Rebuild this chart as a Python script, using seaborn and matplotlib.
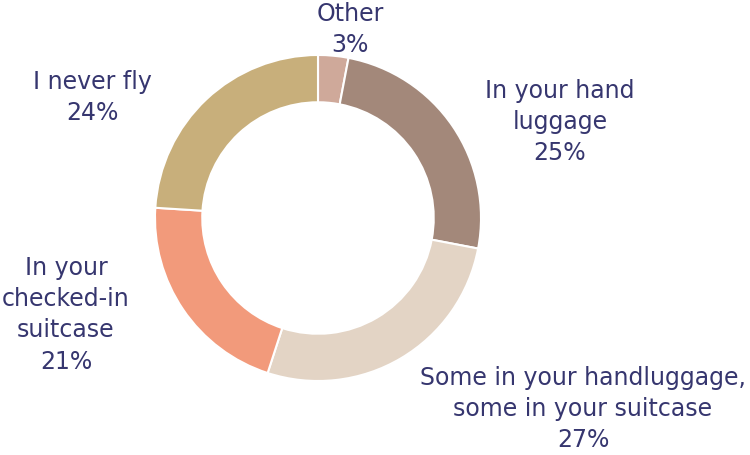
import matplotlib
matplotlib.use("Agg")
import matplotlib.pyplot as plt
import seaborn as sns

# Where do you keep your liquids when travelling?
categories = [
    "Other",
    "In your hand\nluggage",
    "Some in your handluggage,\nsome in your suitcase",
    "In your\nchecked-in\nsuitcase",
    "I never fly",
]
shares = [3, 25, 27, 21, 24]
colors = ["#CFA99A", "#A3887A", "#E3D4C5", "#F29A7B", "#C8AF7B"]

# label anchor points (pixel centre x, pixel top y) on a 750x455 canvas
label_pos = [(350, 2), (560, 79), (583, 366), (66, 256), (92, 70)]

sns.set_theme(style="white")
plt.rcParams["font.family"] = ["DejaVu Sans"]
text_color = "#36366F"

W, H = 750, 455
fig = plt.figure(figsize=(W / 100, H / 100), dpi=100)
ax = fig.add_axes([0, 0, 1, 1])

palette = sns.color_palette(colors)
ax.pie(
    shares,
    colors=palette,
    startangle=90,
    counterclock=False,
    radius=1.0,
    wedgeprops=dict(width=0.29, edgecolor="white", linewidth=1.5),
)

# map data units onto pixels: centre at (318, 218), outer radius 163 px
cx, cy, r = 318, 218, 163
ax.set_xlim(-cx / r, (W - cx) / r)
ax.set_ylim(-(H - cy) / r, cy / r)
ax.set_aspect("auto")
ax.axis("off")

for cat, val, (px, py) in zip(categories, shares, label_pos):
    fig.text(
        px / W, 1 - py / H, f"{cat}\n{val}%",
        ha="center", va="top", multialignment="center",
        fontsize=17, color=text_color, linespacing=1.38,
    )

fig.savefig("out.png", dpi=100, facecolor="white")
